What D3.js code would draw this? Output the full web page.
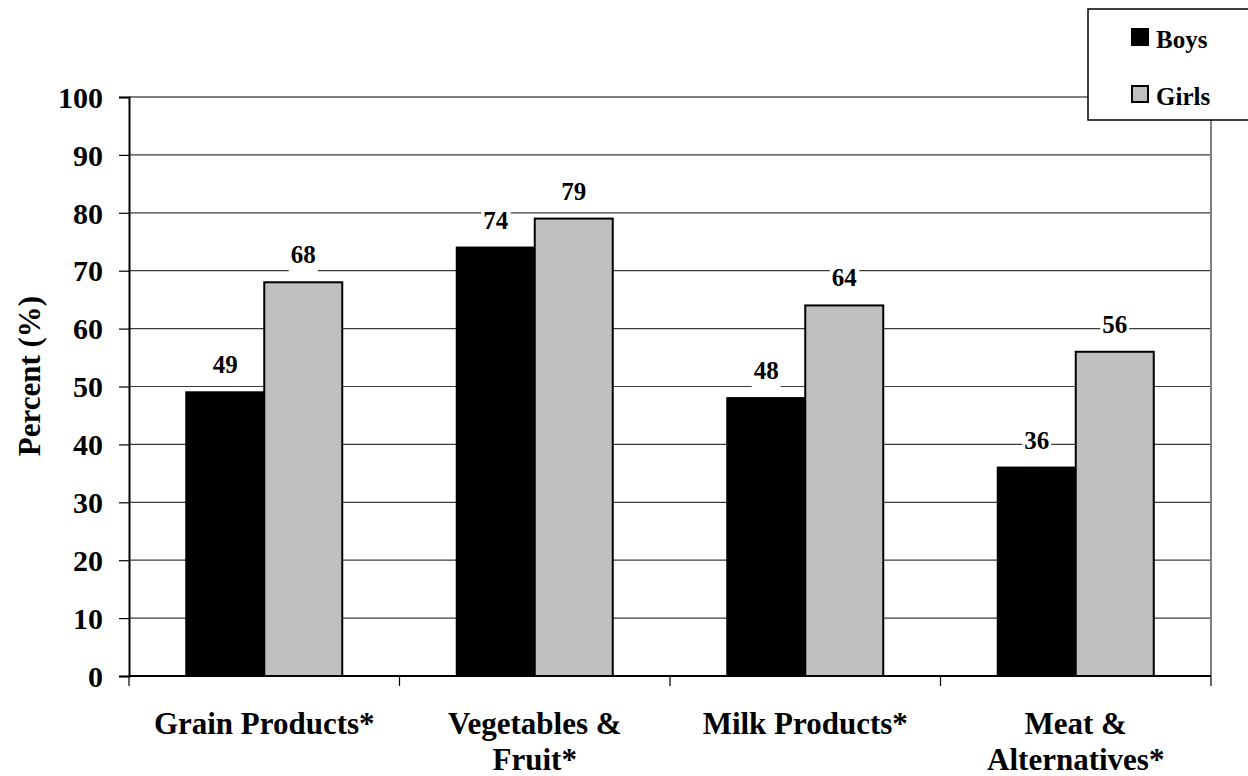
<!DOCTYPE html>
<html>
<head>
<meta charset="utf-8">
<script src="https://cdn.jsdelivr.net/npm/d3@7"></script>
<style>
  html, body { margin: 0; padding: 0; background: #fff; }
  svg { display: block; }
  svg text { font-family: "Liberation Serif", "Times New Roman", Times, Tinos, "DejaVu Serif", serif; font-weight: bold; }
</style>
</head>
<body>
<svg id="chart" width="1248" height="776"></svg>
<script>
// Food group categories (line breaks mark label wrapping)
const categories = [
  ["Grain Products*"],
  ["Vegetables &", "Fruit*"],
  ["Milk Products*"],
  ["Meat &", "Alternatives*"]
];
const seriesNames = ["Boys", "Girls"];
const boys  = [49, 74, 48, 36];
const girls = [68, 79, 64, 56];
const yTicks = [0, 10, 20, 30, 40, 50, 60, 70, 80, 90, 100];
const yTitle = "Percent (%)";

const colors = { Boys: "#000000", Girls: "#c0c0c0" };

const W = 1248, H = 776;
const margin = { top: 97, right: 37, bottom: 100, left: 129 };
const svg = d3.select("#chart");

const catKeys = categories.map(c => c.join(" "));
const x = d3.scaleBand().domain(catKeys).range([margin.left, W - margin.right]).padding(0);
const xs = d3.scaleBand().domain(seriesNames).range([0, x.bandwidth()])
  .paddingInner(0).paddingOuter(0.734);
const y = d3.scaleLinear().domain([0, 100]).range([H - margin.bottom, margin.top]);

// Horizontal gridlines
svg.append("g")
  .selectAll("line")
  .data(yTicks.filter(t => t > 0))
  .join("line")
  .attr("x1", margin.left).attr("x2", W - margin.right)
  .attr("y1", d => y(d)).attr("y2", d => y(d))
  .attr("stroke", d => d === 100 ? "#808080" : "#3c3c3c")
  .attr("stroke-width", d => d === 100 ? 2 : 1.2);

// Right plot border
svg.append("line")
  .attr("x1", W - margin.right).attr("x2", W - margin.right)
  .attr("y1", y(100)).attr("y2", y(0))
  .attr("stroke", "#808080").attr("stroke-width", 2);

// Bars
const rows = catKeys.map((k, i) => ({ key: k, values: [
  { name: "Boys", value: boys[i] },
  { name: "Girls", value: girls[i] }
]}));

const groups = svg.append("g").selectAll("g")
  .data(rows).join("g")
  .attr("transform", d => `translate(${x(d.key)},0)`);

groups.selectAll("rect")
  .data(d => d.values).join("rect")
  .attr("x", d => xs(d.name))
  .attr("y", d => y(d.value))
  .attr("width", xs.bandwidth())
  .attr("height", d => y(0) - y(d.value))
  .attr("fill", d => colors[d.name])
  .attr("stroke", "#000")
  .attr("stroke-width", 2);

// Value labels with white backing
groups.each(function(row) {
  const g = d3.select(this);
  row.values.forEach(v => {
    const cx = xs(v.name) + xs.bandwidth() / 2;
    const by = y(v.value) - 19;
    const t = g.append("text")
      .attr("x", cx).attr("y", by)
      .attr("text-anchor", "middle")
      .attr("font-size", 25)
      .text(v.value);
    const bb = t.node().getBBox();
    g.insert("rect", () => t.node())
      .attr("x", bb.x - 2).attr("y", by - 22)
      .attr("width", bb.width + 4).attr("height", 31)
      .attr("fill", "#fff");
  });
});

// Y axis
const yAxis = d3.axisLeft(y).tickValues(yTicks).tickSize(10).tickPadding(16);
const yg = svg.append("g").attr("transform", `translate(${margin.left},0)`).call(yAxis);
yg.attr("font-family", null).attr("font-size", null);
yg.select(".domain").attr("stroke", "#000").attr("stroke-width", 2);
yg.selectAll(".tick line").attr("stroke", "#000").attr("stroke-width", 1.2);
yg.selectAll(".tick text")
  .attr("font-size", 30)
  .attr("fill", "#000")
  .attr("dy", "0.34em");

// X axis baseline with category boundary ticks
const xg = svg.append("g");
xg.append("line")
  .attr("x1", margin.left).attr("x2", W - margin.right)
  .attr("y1", y(0)).attr("y2", y(0))
  .attr("stroke", "#000").attr("stroke-width", 2);
const bounds = catKeys.map(k => x(k)).concat([x(catKeys[catKeys.length - 1]) + x.bandwidth()]);
xg.selectAll("line.tk").data(bounds).join("line")
  .attr("class", "tk")
  .attr("x1", d => d).attr("x2", d => d)
  .attr("y1", y(0)).attr("y2", y(0) + 10)
  .attr("stroke", "#000").attr("stroke-width", 1.2);

// Category labels
categories.forEach((lines, i) => {
  const cx = x(catKeys[i]) + x.bandwidth() / 2;
  const t = svg.append("text")
    .attr("text-anchor", "middle")
    .attr("font-size", 31)
    .attr("fill", "#000");
  lines.forEach((ln, j) => {
    t.append("tspan").attr("x", cx).attr("y", 734 + j * 36).text(ln);
  });
});

// Y axis title
svg.append("text")
  .attr("transform", `translate(40,376) rotate(-90)`)
  .attr("text-anchor", "middle")
  .attr("font-size", 31)
  .text(yTitle);

// Legend
const lg = svg.append("g");
lg.append("rect")
  .attr("x", 1088).attr("y", 9)
  .attr("width", 170).attr("height", 111)
  .attr("fill", "#fff").attr("stroke", "#000").attr("stroke-width", 1.5);
seriesNames.forEach((name, i) => {
  const yy = 29 + i * 57;
  lg.append("rect")
    .attr("x", 1132).attr("y", yy)
    .attr("width", 16).attr("height", 16)
    .attr("fill", colors[name]).attr("stroke", "#000").attr("stroke-width", 2);
  lg.append("text")
    .attr("x", 1156).attr("y", yy + 19)
    .attr("font-size", 25)
    .text(name);
});
</script>
</body>
</html>
